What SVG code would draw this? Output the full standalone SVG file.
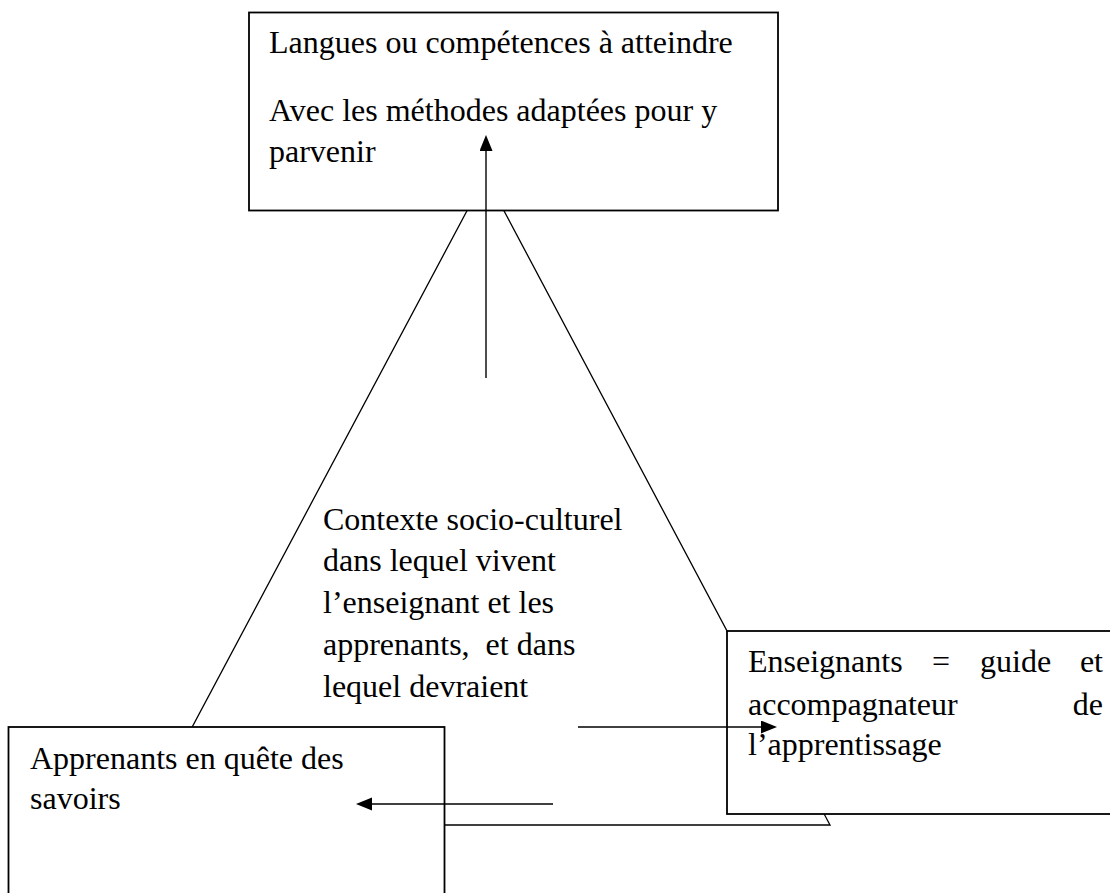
<svg xmlns="http://www.w3.org/2000/svg" width="1110" height="893" viewBox="0 0 1110 893">
<style>
.box{fill:#fff;stroke:#000;stroke-width:1.8}
.tri{fill:none;stroke:#000;stroke-width:1.3}
.con{stroke:#000;stroke-width:1.4;fill:none}
text{font-family:"Liberation Serif","Times New Roman",serif;font-size:32px;fill:#000}
</style>
<defs>
<marker id="ah" markerUnits="userSpaceOnUse" markerWidth="17" markerHeight="14" refX="0" refY="6.5" orient="auto">
<path d="M0,0 L16,6.5 L0,13 Z" fill="#000"/>
</marker>
</defs>
<rect width="1110" height="893" fill="#fff"/>
<g id="triangle">
<polygon class="tri" points="485.5,176 140,825 830,825"/>
</g>
<g id="node-top">
<rect class="box" x="249" y="12.5" width="529" height="198"/>
<text x="269" y="53">Langues ou compétences à atteindre</text>
<text x="269" y="121">Avec les méthodes adaptées pour y</text>
<text x="269" y="162">parvenir</text>
</g>
<g id="node-context">
<text x="323" y="530">Contexte socio-culturel</text>
<text x="323" y="571">dans lequel vivent</text>
<text x="323" y="613">l’enseignant et les</text>
<text x="323" y="655" style="white-space:pre">apprenants,  et dans</text>
<text x="323" y="697">lequel devraient</text>
</g>
<g id="node-left">
<rect class="box" x="8.5" y="727" width="436" height="200"/>
<text x="30" y="769">Apprenants en quête des</text>
<text x="30" y="809">savoirs</text>
</g>
<g id="node-right">
<rect class="box" x="727" y="631" width="450" height="183"/>
<text x="748" y="672">Enseignants</text>
<text x="932" y="672">=</text>
<text x="980" y="672">guide</text>
<text x="1103" y="672" text-anchor="end">et</text>
<text x="748" y="715">accompagnateur</text>
<text x="1103" y="715" text-anchor="end">de</text>
<text x="748" y="755">l’apprentissage</text>
</g>
<g id="connectors">
<line class="con" x1="486" y1="378" x2="486" y2="151" marker-end="url(#ah)"/>
<line class="con" x1="578" y1="727" x2="761" y2="727" marker-end="url(#ah)"/>
<line class="con" x1="553" y1="804" x2="372" y2="804" marker-end="url(#ah)"/>
</g>
</svg>
